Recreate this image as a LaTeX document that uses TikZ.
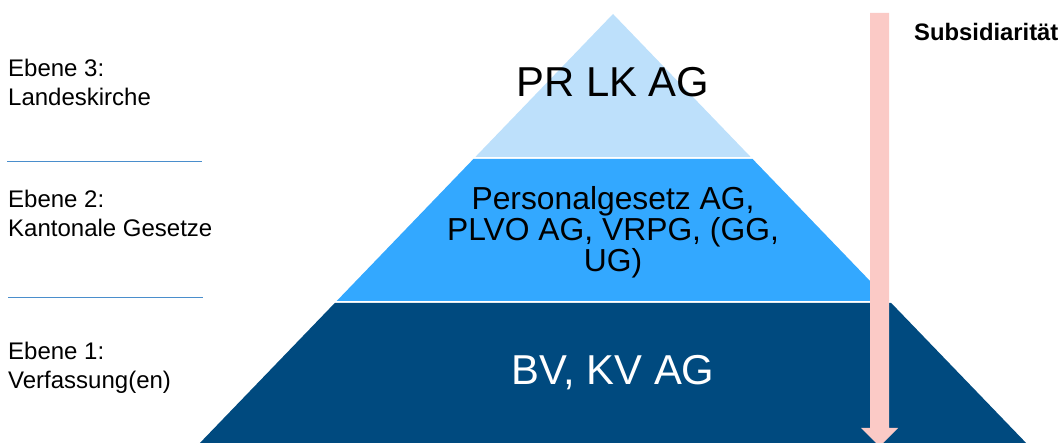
\documentclass[tikz,border=0pt]{standalone}
\usepackage{fontspec}
\setmainfont{Liberation Sans}
\definecolor{tierA}{RGB}{189,224,251}
\definecolor{tierB}{RGB}{51,168,255}
\definecolor{tierC}{RGB}{0,74,127}
\definecolor{arrowpink}{RGB}{251,202,198}
\definecolor{rulecol}{RGB}{74,142,204}
\begin{document}
\begin{tikzpicture}[x=1pt,y=1pt,
  lbl/.style={anchor=north west,inner sep=0pt,align=left,font=\fontsize{24}{29}\selectfont},
  sepline/.style={draw=rulecol,line width=1.3pt},
  bigtxt/.style={anchor=base,inner sep=0pt,font=\fontsize{41.8}{48}\selectfont}]
\useasboundingbox (0,0) rectangle (1062,443);
\clip (0,0) rectangle (1062,443);
% pyramid tiers
\fill[tierA] (613,429) -- (750.7,286) -- (475.3,286) -- cycle;
\fill[tierB] (473.4,284) -- (752.6,284) -- (889.3,142) -- (336.7,142) -- cycle;
\fill[tierC] (334.8,140) -- (891.2,140) -- (1029,-3) -- (197,-3) -- cycle;
% texts in pyramid
\node[bigtxt] (t3) at (613,346.3) {PR LK AG};
\node[anchor=north,inner sep=0pt,align=center,font=\fontsize{31.8}{31}\selectfont] (t2) at (613,257)
  {Personalgesetz AG,\\PLVO AG, VRPG, (GG,\\UG)};
\node[bigtxt,text=white] (t1) at (613,58) {BV, KV AG};
% subsidiarity arrow
\coordinate (atop) at (879.5,430);
\fill[arrowpink] (870,430) -- (889,430) -- (889,15) -- (898,15) -- (879.5,-3.5) -- (861,15) -- (870,15) -- cycle;
\node[anchor=base west,inner sep=0pt,font=\bfseries\fontsize{23.8}{28}\selectfont] (sub) at (914,402) {Subsidiarität};
% left labels
\node[lbl] (e3) at (8,384) {Ebene 3:\\Landeskirche};
\coordinate (l1a) at (7,281.3);
\coordinate (l1b) at (202,281.3);
\draw[sepline] (l1a) -- (l1b);
\node[lbl] (e2) at (8,253.3) {Ebene 2:\\Kantonale Gesetze};
\coordinate (l2a) at (8,145.3);
\coordinate (l2b) at (203,145.3);
\draw[sepline] (l2a) -- (l2b);
\node[lbl] (e1) at (8,101) {Ebene 1:\\Verfassung(en)};
\end{tikzpicture}
\end{document}
